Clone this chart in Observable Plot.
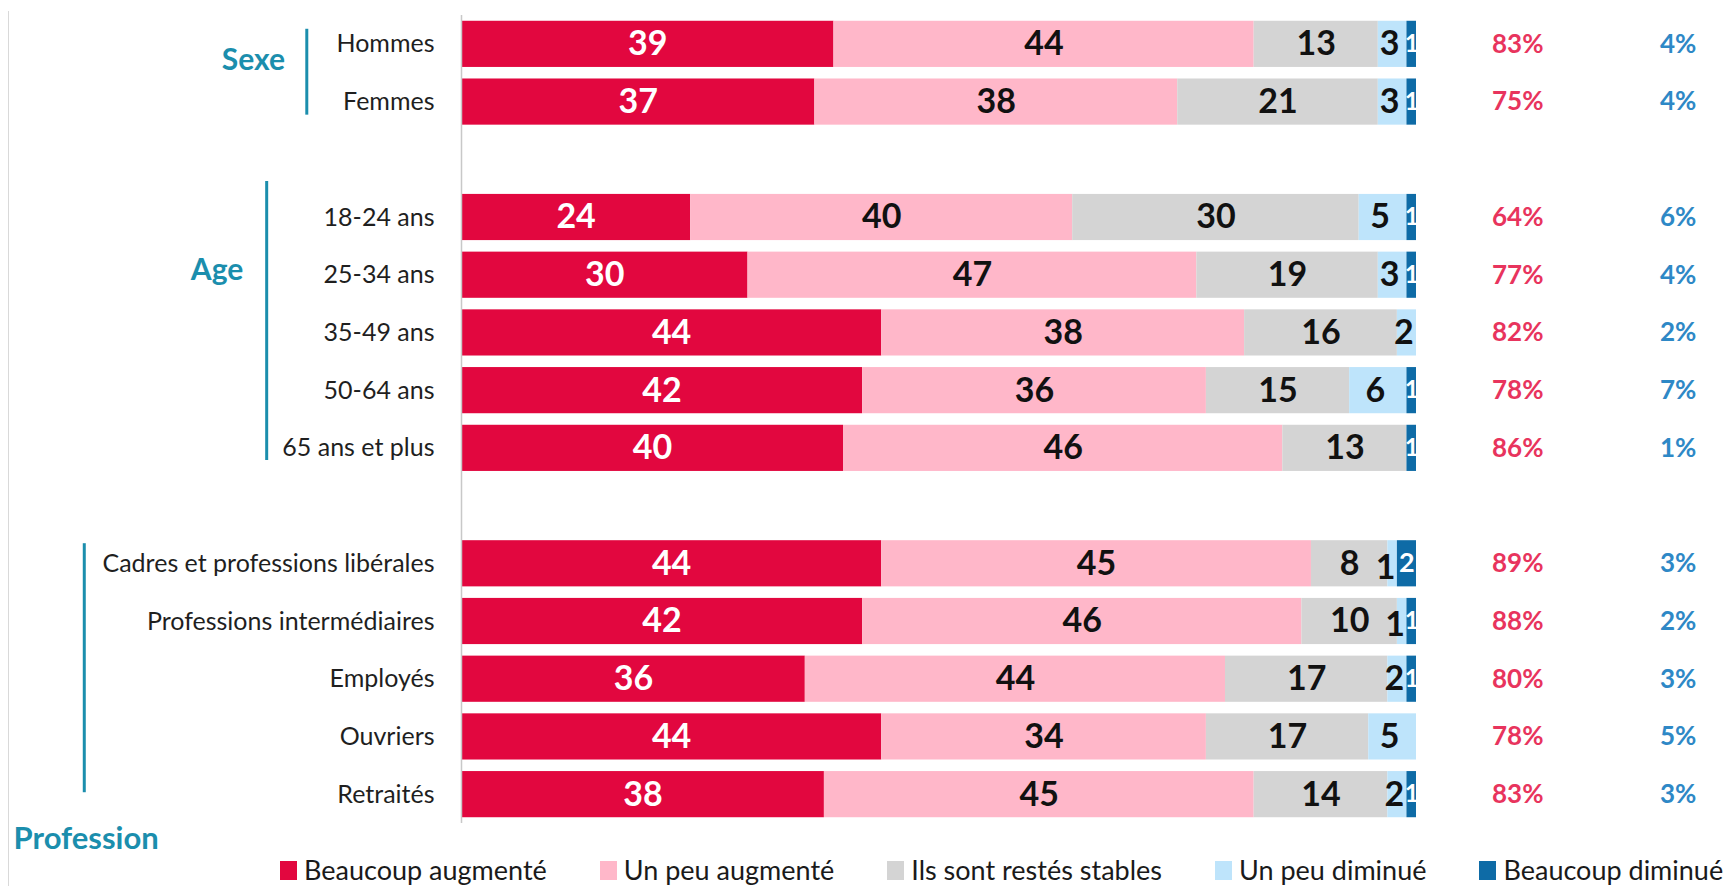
<!DOCTYPE html>
<html><head><meta charset="utf-8">
<script src="https://cdn.jsdelivr.net/npm/d3@7"></script>
<script src="https://cdn.jsdelivr.net/npm/@observablehq/plot@0.6"></script>
<style>
body{margin:0;background:#fff;font-family:Lato, sans-serif;}
#wrap{position:relative;width:1733px;height:886px;overflow:hidden;background:#fff;}
#border{position:absolute;left:8px;top:11px;bottom:0;border-left:1px solid #d9d9d9;}
#legend{display:flex;gap:53px;align-items:center;padding-left:280px;height:34px;margin-top:5px;font-size:27px;line-height:1.1;color:#1a1a1a;white-space:nowrap;}
.item{display:flex;align-items:center;gap:7px;}
.sw{width:17px;height:19px;display:inline-block;}
</style></head><body>
<div id="wrap"><div id="border"></div><div id="chart"></div><div id="legend"></div></div>
<script>
const categories = ["Hommes","Femmes","18-24 ans","25-34 ans","35-49 ans","50-64 ans","65 ans et plus","Cadres et professions libérales","Professions intermédiaires","Employés","Ouvriers","Retraités"];
const seriesNames = ["Beaucoup augmenté","Un peu augmenté","Ils sont restés stables","Un peu diminué","Beaucoup diminué"];
const seriesColors = ["#E2073F","#FFB7C9","#D4D4D4","#BEE4FB","#0E6BA6"];
const beaucoupAugmente = [39,37,24,30,44,42,40,44,42,36,44,38];
const unPeuAugmente   = [44,38,40,47,38,36,46,45,46,44,34,45];
const stables         = [13,21,30,19,16,15,13,8,10,17,17,14];
const unPeuDiminue    = [3,3,5,3,2,6,0,1,1,2,5,2];
const beaucoupDiminue = [1,1,1,1,0,1,1,2,1,1,0,1];
const totalAugmente   = [83,75,64,77,82,78,86,89,88,80,78,83];
const totalDiminue    = [4,4,6,4,2,7,1,3,2,3,5,3];
const groupNames = ["Sexe","Age","Profession"];

const seriesValues = [beaucoupAugmente, unPeuAugmente, stables, unPeuDiminue, beaucoupDiminue];
const rows = [];
categories.forEach((cat, i) => {
  let acc = 0;
  seriesValues.forEach((vals, s) => {
    const v = vals[i];
    rows.push({cat, s, series: seriesNames[s], value: v, x1: acc, x2: acc + v, mid: acc + v / 2});
    acc += v;
  });
});
const yDomain = [categories[0], categories[1], "gap1", ...categories.slice(2, 7), "gap2", ...categories.slice(7)];
const idx = d3.range(categories.length);
const teal = "#1B8EAD";

const chart = Plot.plot({
  width: 1733, height: 848,
  marginLeft: 461, marginRight: 317, marginTop: 15, marginBottom: 25,
  x: {domain: [0, 100], axis: null},
  y: {domain: yDomain, paddingInner: 0.2, paddingOuter: 0.1, round: false, axis: null, label: null},
  color: {domain: seriesNames, range: seriesColors},
  style: {fontFamily: "Lato, sans-serif", background: "transparent", overflow: "visible"},
  marks: [
    Plot.barX(rows.filter(d => d.value > 0), {x1: "x1", x2: "x2", y: "cat", fill: "series"}),
    Plot.ruleX([0], {stroke: "#c8c8c8", strokeWidth: 1.5}),
    Plot.axisY({tickSize: 0, tickPadding: 27, fontSize: 25, color: "#1f1f1f", label: null,
      tickFormat: d => d.startsWith("gap") ? "" : d}),
    Plot.text(rows.filter(d => d.value > 0 && (d.s === 1 || d.s === 2)), {x: "mid", y: "cat", text: "value", fill: "#111", fontSize: 34, fontWeight: "bold"}),
    Plot.text(rows.filter(d => d.value > 1 && d.s === 3), {x: "mid", y: "cat", text: "value", dx: -3, fill: "#111", fontSize: 34, fontWeight: "bold"}),
    Plot.text(rows.filter(d => d.value === 1 && d.s === 3), {x: "mid", y: "cat", text: "value", dx: -7, dy: 4, fill: "#111", fontSize: 34, fontWeight: "bold"}),
    Plot.text(rows.filter(d => d.value > 0 && d.s === 0), {x: "mid", y: "cat", text: "value", fill: "white", fontSize: 34, fontWeight: "bold"}),
    Plot.text(rows.filter(d => d.value === 1 && d.s === 4), {x: "mid", y: "cat", text: "value", fill: "white", fontSize: 24, fontWeight: "bold"}),
    Plot.text(rows.filter(d => d.value > 1 && d.s === 4), {x: "mid", y: "cat", text: "value", fill: "white", fontSize: 27, fontWeight: "bold"}),
    Plot.text(idx, {x: () => 110.6, y: i => categories[i], text: i => totalAugmente[i] + "%", fill: "#E8345D", fontSize: 26, fontWeight: "bold"}),
    Plot.text(idx, {x: () => 127.4, y: i => categories[i], text: i => totalDiminue[i] + "%", fill: "#2E88C6", fontSize: 26, fontWeight: "bold"}),
    Plot.ruleX([groupNames[0]], {x: () => -16.2, y1: () => categories[0], y2: () => categories[1], stroke: teal, strokeWidth: 3, insetTop: 8, insetBottom: 10}),
    Plot.ruleX([groupNames[1]], {x: () => -20.4, y1: () => categories[2], y2: () => categories[6], stroke: teal, strokeWidth: 3, insetTop: -13, insetBottom: 11}),
    Plot.ruleX([groupNames[2]], {x: () => -39.5, y1: () => categories[7], y2: () => categories[11], stroke: teal, strokeWidth: 3, insetTop: 3, insetBottom: 25}),
    Plot.text([groupNames[0]], {x: () => -21.8, y: () => categories[0], dy: 16, text: d => d, fill: teal, fontSize: 30, fontWeight: "bold"}),
    Plot.text([groupNames[1]], {x: () => -25.6, y: () => categories[3], dy: -5, text: d => d, fill: teal, fontSize: 30, fontWeight: "bold"}),
    Plot.text([groupNames[2]], {x: () => -46.9, y: () => categories[11], dy: 44, text: d => d, textAnchor: "start", fill: teal, fontSize: 31, fontWeight: "bold"})
  ]
});
document.getElementById("chart").appendChild(chart);

const legend = document.getElementById("legend");
seriesNames.forEach((name, i) => {
  const item = document.createElement("div");
  item.className = "item";
  const sw = document.createElement("span");
  sw.className = "sw";
  sw.style.background = seriesColors[i];
  const label = document.createElement("span");
  label.textContent = name;
  item.appendChild(sw);
  item.appendChild(label);
  legend.appendChild(item);
});
</script>
</body></html>
